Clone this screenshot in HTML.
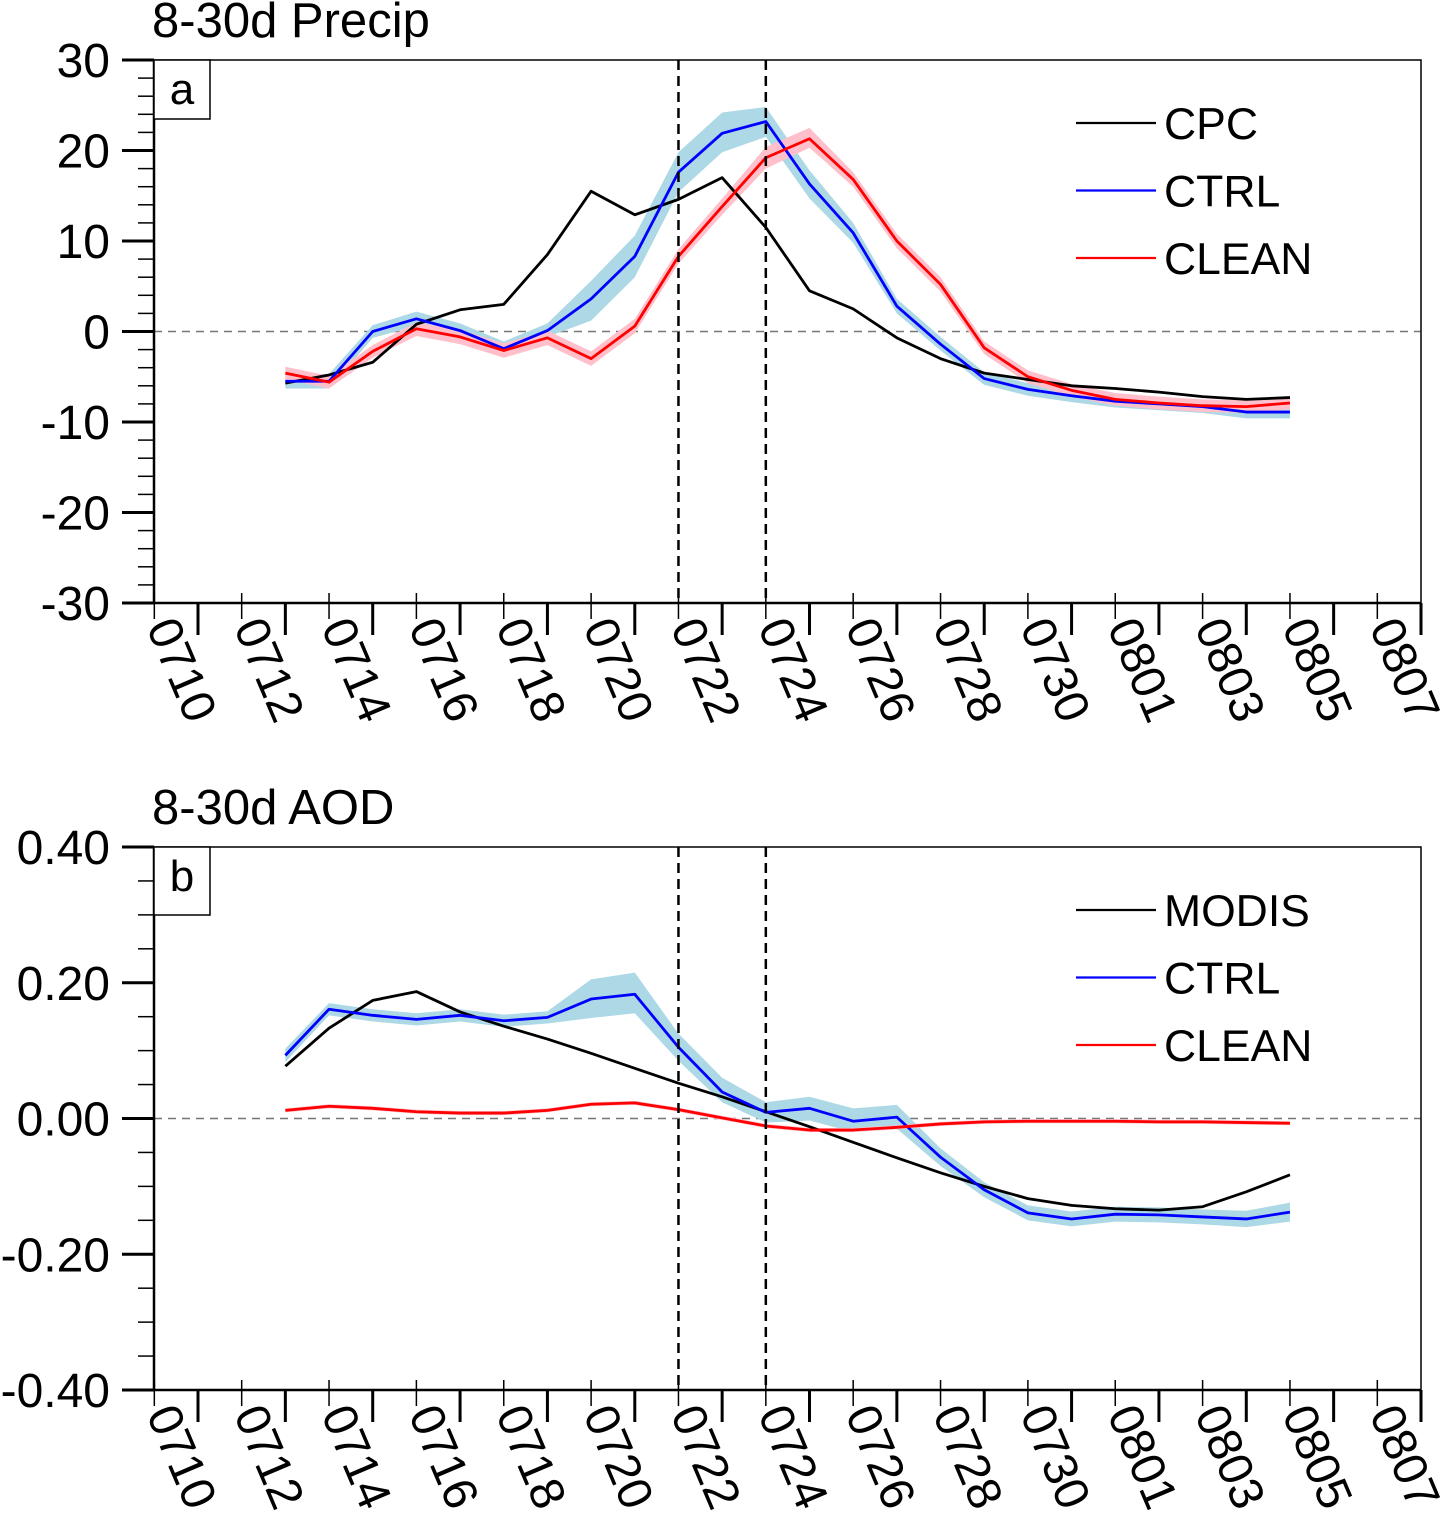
<!DOCTYPE html>
<html><head><meta charset="utf-8"><style>
body{margin:0;background:#fff}
svg{display:block;font-family:"Liberation Sans",sans-serif}
</style></head><body>
<svg id="chart" width="1440" height="1520" viewBox="0 0 1440 1520"></svg>
<script>
const days=['0712','0713','0714','0715','0716','0717','0718','0719','0720','0721','0722','0723','0724','0725','0726','0727','0728','0729','0730','0731','0801','0802','0803','0804'];
const xTickLabels=['0710','0712','0714','0716','0718','0720','0722','0724','0726','0728','0730','0801','0803','0805','0807'];
const precipCPC=[-5.7,-4.8,-3.4,0.8,2.4,3.0,8.5,15.5,12.9,14.6,17.0,11.5,4.5,2.5,-0.7,-3.0,-4.6,-5.3,-6.0,-6.3,-6.7,-7.2,-7.5,-7.3];
const precipCTRL=[-5.5,-5.5,0,1.4,0.1,-1.9,0.1,3.6,8.3,17.6,21.9,23.2,16.3,10.9,2.8,-1.4,-5.2,-6.4,-7.1,-7.7,-8.0,-8.3,-8.9,-8.9];
const precipCTRLlo=[-6.3,-6.3,-0.7,0.6,-0.7,-2.6,-0.6,1.2,6.0,15.4,19.8,21.5,14.7,9.8,2.0,-2.1,-5.9,-7.1,-7.8,-8.4,-8.7,-9.0,-9.6,-9.6];
const precipCTRLhi=[-4.7,-4.7,0.7,2.2,0.9,-1.1,0.9,5.6,10.6,19.8,24.2,24.8,17.8,12.0,3.6,-0.6,-4.5,-5.7,-6.4,-7.0,-7.3,-7.6,-8.2,-8.2];
const precipCLEAN=[-4.6,-5.6,-2.2,0.3,-0.6,-2.1,-0.7,-3.0,0.6,8.3,13.8,19.2,21.3,16.8,10.0,5.2,-1.8,-5.0,-6.5,-7.5,-7.9,-8.2,-8.3,-7.9];
const precipCLEANlo=[-5.3,-6.3,-2.9,-0.5,-1.4,-2.9,-1.5,-3.8,-0.2,7.5,12.9,18.0,20.3,16.0,9.2,4.4,-2.5,-5.7,-7.2,-8.2,-8.6,-8.9,-9.0,-8.6];
const precipCLEANhi=[-3.9,-4.9,-1.5,1.0,0.2,-1.3,0.1,-2.2,1.4,9.1,14.7,20.4,22.5,17.6,10.8,6.0,-1.1,-4.3,-5.8,-6.8,-7.2,-7.5,-7.6,-7.2];
const aodMODIS=[0.077,0.133,0.174,0.187,0.157,0.136,0.117,0.096,0.074,0.052,0.032,0.010,-0.012,-0.035,-0.058,-0.080,-0.100,-0.118,-0.128,-0.133,-0.135,-0.130,-0.108,-0.083];
const aodCTRL=[0.093,0.161,0.152,0.146,0.152,0.144,0.149,0.176,0.183,0.105,0.039,0.009,0.015,-0.004,0.002,-0.057,-0.105,-0.139,-0.148,-0.141,-0.142,-0.145,-0.148,-0.138];
const aodCTRLlo=[0.083,0.152,0.143,0.137,0.143,0.135,0.140,0.148,0.155,0.085,0.024,-0.006,-0.003,-0.020,-0.015,-0.070,-0.116,-0.150,-0.159,-0.152,-0.153,-0.156,-0.160,-0.152];
const aodCTRLhi=[0.103,0.170,0.161,0.155,0.161,0.153,0.158,0.205,0.215,0.125,0.060,0.024,0.032,0.015,0.020,-0.044,-0.094,-0.128,-0.137,-0.130,-0.131,-0.134,-0.136,-0.124];
const aodCLEAN=[0.012,0.018,0.015,0.010,0.008,0.008,0.012,0.021,0.023,0.013,0.001,-0.011,-0.017,-0.017,-0.013,-0.008,-0.005,-0.004,-0.004,-0.004,-0.005,-0.005,-0.006,-0.007];
const aodCLEANlo=aodCLEAN.map(v=>v-0.003);
const aodCLEANhi=aodCLEAN.map(v=>v+0.003);
const vlineDays=['0721','0723'];

const svg=document.getElementById('chart');
const NS='http://www.w3.org/2000/svg';
function el(tag,attrs,parent){const e=document.createElementNS(NS,tag);for(const k in attrs)e.setAttribute(k,attrs[k]);(parent||svg).appendChild(e);return e;}
const L=154,R=1421,DAY=(R-198)/28;
function dayIndex(s){const m=+s.slice(0,2),d=+s.slice(2);return m===7?d-10:d+21;}
function xs(s){return 198+dayIndex(s)*DAY;}

function panel(cfg){
  const g=el('g',{});
  
  
  const ys=v=>cfg.top+(cfg.max-v)/(cfg.max-cfg.min)*(cfg.bot-cfg.top);
  const t=el('text',{x:152,y:cfg.top-23,'font-size':49},g);t.textContent=cfg.title;
  
  const z=el('line',{x1:L,x2:R,y1:ys(0),y2:ys(0),stroke:'#777','stroke-width':1.5,'stroke-dasharray':'8,6'},g);
  
  cfg.series.forEach(s=>{
    if(s.lo){
      let d='M'+days.map((k,i)=>xs(k)+','+ys(s.hi[i])).join('L')+'L'+days.map((k,i)=>xs(k)+','+ys(s.lo[i])).reverse().join('L')+'Z';
      const b=el('path',{d:d,fill:s.band,stroke:'none'},g);
      
    }
  });
  cfg.series.forEach(s=>{
    const p=el('polyline',{points:days.map((k,i)=>xs(k)+','+ys(s.v[i])).join(' '),fill:'none',stroke:s.color,'stroke-width':2.8,'stroke-linejoin':'round'},g);
    
  });
  vlineDays.forEach(dd=>{
    const v=el('line',{x1:xs(dd),x2:xs(dd),y1:cfg.top,y2:cfg.bot,stroke:'#000','stroke-width':2.5,'stroke-dasharray':'10,6'},g);
    
  });
  const fr=el('rect',{x:L,y:cfg.top,width:R-L,height:cfg.bot-cfg.top,fill:'none',stroke:'#000','stroke-width':1.5},g);
  
  el('line',{x1:L,x2:L,y1:cfg.top,y2:cfg.bot,stroke:'#000','stroke-width':2.5},g);
  el('line',{x1:L,x2:R,y1:cfg.bot,y2:cfg.bot,stroke:'#000','stroke-width':2.5},g);
  for(let v=cfg.min;v<=cfg.max+1e-9;v+=cfg.minor){
    el('line',{x1:L-16,x2:L,y1:ys(v),y2:ys(v),stroke:'#000','stroke-width':1.5},g);
  }
  cfg.yTicks.forEach((v,i)=>{
    el('line',{x1:L-32,x2:L,y1:ys(v),y2:ys(v),stroke:'#000','stroke-width':3},g);
    const tl=el('text',{x:110,y:ys(v)+17,'font-size':48,'text-anchor':'end'},g);tl.textContent=cfg.yLabels[i];
    
  });
  for(let d=-1;d<=28;d++){
    const x=198+d*DAY;
    if(d%2===0){el('line',{x1:x,x2:x,y1:cfg.bot,y2:cfg.bot+32,stroke:'#000','stroke-width':3},g);}
    else{el('line',{x1:x,x2:x,y1:cfg.bot-10,y2:cfg.bot+16,stroke:'#000','stroke-width':1.5},g);}
  }
  xTickLabels.forEach((lab,i)=>{
    const x=198+i*2*DAY-52,y=cfg.bot+24;
    const tl=el('text',{x:x,y:y,'font-size':48,transform:`rotate(67 ${x} ${y})`},g);tl.textContent=lab;
    
  });
  const lb=el('rect',{x:L,y:cfg.top,width:56,height:cfg.boxH,fill:'#fff',stroke:'#000','stroke-width':1.5},g);
  
  const lt=el('text',{x:182,y:cfg.top+44,'font-size':44,'text-anchor':'middle'},g);lt.textContent=cfg.letter;
  
  cfg.series.forEach((s,i)=>{
    const y=cfg.legY+i*67.5;
    const ll=el('line',{x1:1076,x2:1156,y1:y,y2:y,stroke:s.color,'stroke-width':2.2},g);
    
    const lx=el('text',{x:1164,y:y+16,'font-size':44.5},g);lx.textContent=s.label;
    
  });
}
panel({name:'precip-panel',title:'8-30d Precip',letter:'a',top:60,bot:603,min:-30,max:30,minor:2,boxH:59,
  yTicks:[30,20,10,0,-10,-20,-30],yLabels:['30','20','10','0','-10','-20','-30'],legY:123,
  series:[{key:'cpc',label:'CPC',color:'#000',v:precipCPC},
          {key:'ctrl',label:'CTRL',color:'#0000ff',v:precipCTRL,lo:precipCTRLlo,hi:precipCTRLhi,band:'#add8e6'},
          {key:'clean',label:'CLEAN',color:'#ff0000',v:precipCLEAN,lo:precipCLEANlo,hi:precipCLEANhi,band:'#ffc0cb'}]});
panel({name:'aod-panel',title:'8-30d AOD',letter:'b',top:847,bot:1390,min:-0.4,max:0.4,minor:0.05,boxH:68,
  yTicks:[0.4,0.2,0,-0.2,-0.4],yLabels:['0.40','0.20','0.00','-0.20','-0.40'],legY:910,
  series:[{key:'modis',label:'MODIS',color:'#000',v:aodMODIS},
          {key:'ctrl',label:'CTRL',color:'#0000ff',v:aodCTRL,lo:aodCTRLlo,hi:aodCTRLhi,band:'#add8e6'},
          {key:'clean',label:'CLEAN',color:'#ff0000',v:aodCLEAN,lo:aodCLEANlo,hi:aodCLEANhi,band:'#ffc0cb'}]});
</script>
</body></html>
